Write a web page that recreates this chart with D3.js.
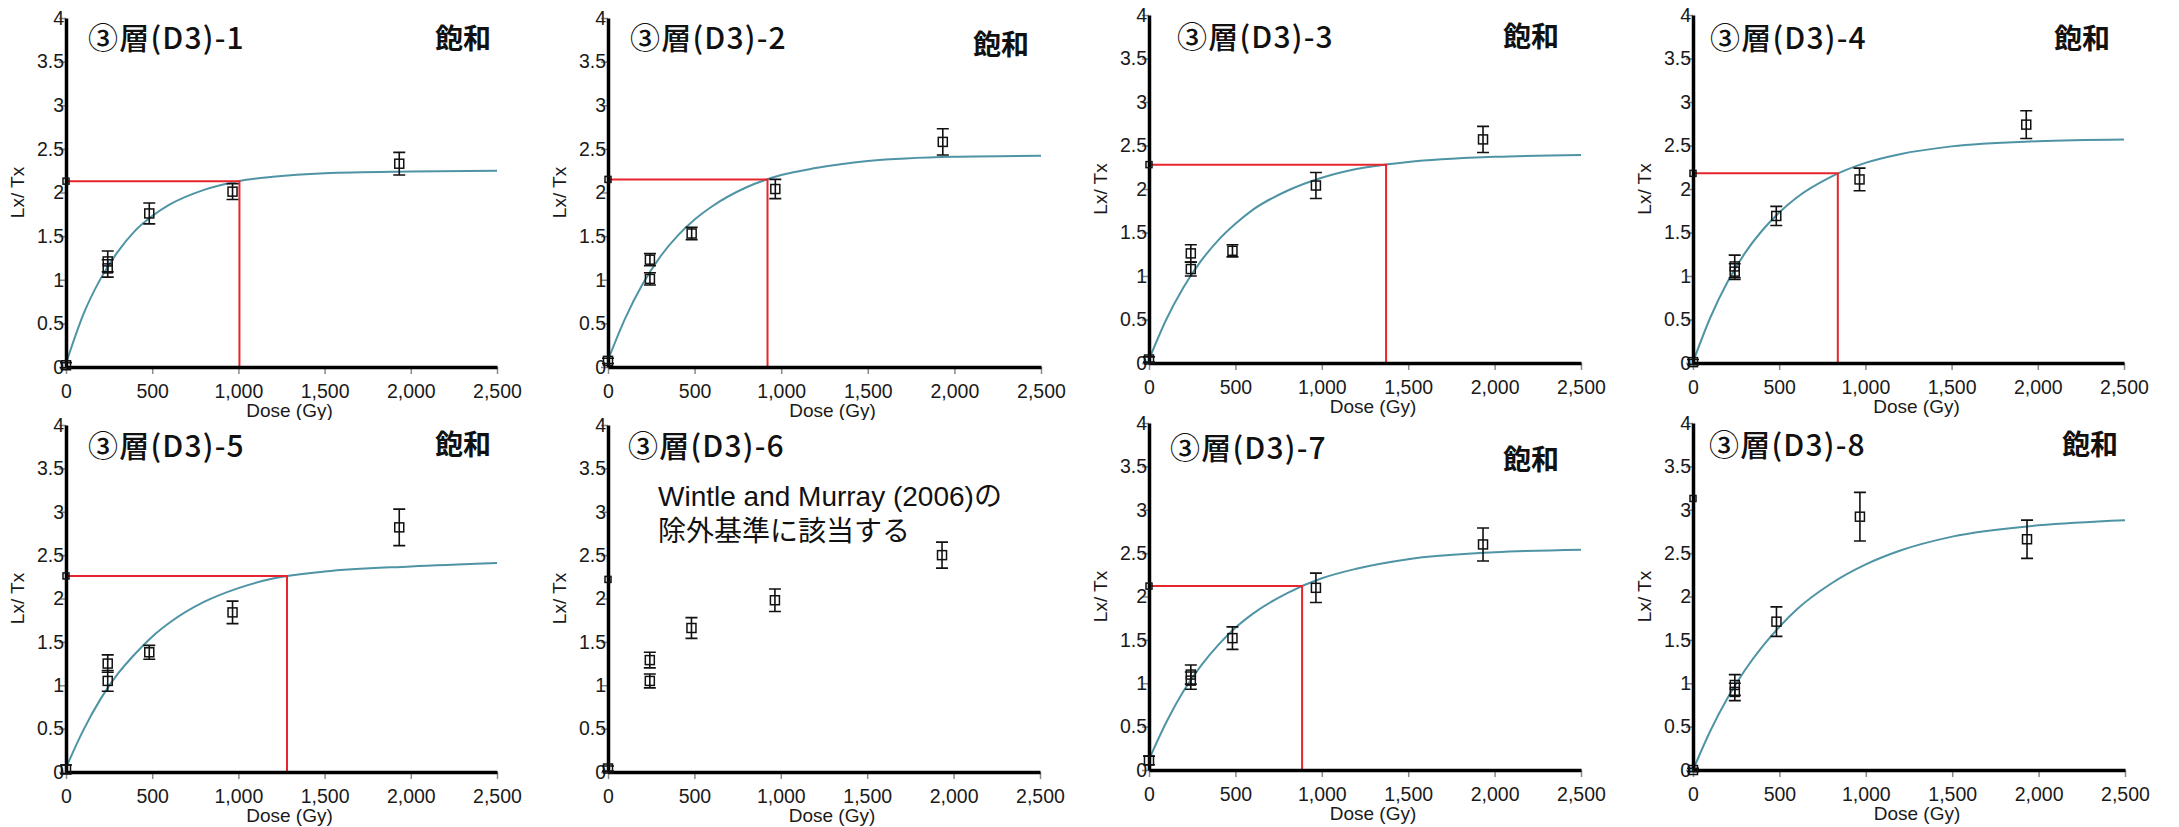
<!DOCTYPE html>
<html><head><meta charset="utf-8">
<script src="https://cdn.jsdelivr.net/npm/d3@7"></script>
<style>body{margin:0;background:#fff;overflow:hidden}</style>
</head><body><svg id="c" width="2179" height="827"></svg>
<script>
// ---------------- data ----------------
const panelTitles = ["③層(D3)-1","③層(D3)-2","③層(D3)-3","③層(D3)-4","③層(D3)-5","③層(D3)-6","③層(D3)-7","③層(D3)-8"];
const statusLabels = ["飽和","飽和","飽和","飽和","飽和","","飽和","飽和"];
const noteLines = ["Wintle and Murray (2006)の","除外基準に該当する"]; // panel 6 note
const regenDoses = [0, 242, 242, 483, 966, 1933];
const lxtx = [
  [0.02, 1.21, 1.13, 1.76, 2.01, 2.33],
  [0.07, 1.23, 1.01, 1.53, 2.04, 2.58],
  [0.04, 1.26, 1.08, 1.29, 2.04, 2.57],
  [0.01, 1.11, 1.05, 1.69, 2.11, 2.74],
  [0.03, 1.25, 1.05, 1.38, 1.84, 2.82],
  [0.04, 1.29, 1.05, 1.66, 1.98, 2.50],
  [0.11, 1.10, 1.03, 1.52, 2.10, 2.60],
  [0.00, 0.98, 0.90, 1.71, 2.92, 2.66]
];
const lxtxErr = [
  [0.03, 0.12, 0.10, 0.12, 0.09, 0.13],
  [0.03, 0.07, 0.07, 0.07, 0.11, 0.15],
  [0.03, 0.10, 0.08, 0.07, 0.15, 0.15],
  [0.03, 0.13, 0.09, 0.11, 0.13, 0.16],
  [0.05, 0.10, 0.12, 0.08, 0.13, 0.21],
  [0.03, 0.09, 0.08, 0.12, 0.13, 0.15],
  [0.05, 0.11, 0.10, 0.13, 0.17, 0.19],
  [0.02, 0.12, 0.10, 0.17, 0.28, 0.22]
];
const naturalLxTx = [2.13, 2.15, 2.28, 2.18, 2.26, 2.22, 2.12, 3.13];
const deDoses = [1006, 921, 1372, 840, 1282, null, 886, null];
const fitDoses = [0, 100, 200, 300, 400, 500, 600, 800, 1000, 1200, 1500, 2000, 2500];
const fitLxTx = [
  [0.04,0.60,1.01,1.32,1.56,1.73,1.86,2.03,2.13,2.18,2.22,2.24,2.25],
  [0.08,0.56,0.95,1.26,1.50,1.69,1.84,2.06,2.20,2.28,2.36,2.41,2.42],
  [0.04,0.50,0.87,1.17,1.41,1.60,1.76,1.98,2.13,2.23,2.31,2.37,2.39],
  [0.01,0.52,0.93,1.26,1.52,1.73,1.90,2.14,2.30,2.40,2.49,2.55,2.57],
  [0.05,0.48,0.84,1.13,1.36,1.56,1.72,1.96,2.12,2.23,2.31,2.37,2.41],
  null,
  [0.12,0.55,0.91,1.20,1.44,1.64,1.80,2.04,2.21,2.32,2.43,2.51,2.54],
  [0.00,0.45,0.83,1.15,1.42,1.65,1.85,2.15,2.37,2.53,2.69,2.82,2.88]
];
const xTicks = [0, 500, 1000, 1500, 2000, 2500];
const yTicks = [0, 0.5, 1, 1.5, 2, 2.5, 3, 3.5, 4];
const xLabel = "Dose (Gy)";
const yLabel = "Lx/ Tx";

// ---------------- layout ----------------
const layout = [
  {x0:66,  x1:497,  yTop:18,  yBot:367, bgTop:0,   tx:88,   ty:49,  sx:435,  sy:49},
  {x0:608, x1:1041, yTop:18,  yBot:367, bgTop:0,   tx:630,  ty:49,  sx:973,  sy:55},
  {x0:1149,x1:1581, yTop:15,  yBot:363, bgTop:0,   tx:1177, ty:48,  sx:1503, sy:47},
  {x0:1693,x1:2124, yTop:15,  yBot:363, bgTop:0,   tx:1710, ty:49,  sx:2054, sy:49},
  {x0:66,  x1:497,  yTop:425, yBot:772, bgTop:420, tx:88,   ty:457, sx:435,  sy:455},
  {x0:608, x1:1040, yTop:425, yBot:772, bgTop:420, tx:628,  ty:457, sx:0,    sy:0},
  {x0:1149,x1:1581, yTop:423, yBot:770, bgTop:420, tx:1170, ty:459, sx:1503, sy:470},
  {x0:1693,x1:2125, yTop:423, yBot:770, bgTop:420, tx:1709, ty:456, sx:2062, sy:455}
];
const panelLefts = [0, 545, 1090, 1635];

const svg = d3.select("#c");
const FONT = "'Liberation Sans', Arial, sans-serif";
const CJK = "'Noto Sans CJK JP', sans-serif";
const curveColor = "#4f94a4";
const red = "#e6262c";

layout.forEach((L, i) => {
  const g = svg.append("g");
  const left = panelLefts[i % 4];
  g.append("rect").attr("x", left).attr("y", L.bgTop).attr("width", 545).attr("height", 413)
    .attr("fill", "#fff");

  const x = d3.scaleLinear().domain([0, 2500]).range([L.x0, L.x1]);
  const y = d3.scaleLinear().domain([0, 4]).range([L.yBot, L.yTop]);

  // fit curve
  if (fitLxTx[i]) {
    const pts = fitDoses.map((d, k) => [d, fitLxTx[i][k]]);
    g.append("path").datum(pts)
      .attr("d", d3.line().x(d => x(d[0])).y(d => y(d[1])).curve(d3.curveMonotoneX))
      .attr("fill", "none").attr("stroke", curveColor).attr("stroke-width", 2);
  }
  // De construction lines
  if (deDoses[i] != null) {
    g.append("path")
      .attr("d", `M${x(0)},${y(naturalLxTx[i])}H${x(deDoses[i])}V${y(0)}`)
      .attr("fill", "none").attr("stroke", red).attr("stroke-width", 2);
  }

  // axes
  const ax = g.append("g").attr("transform", `translate(0,${y(0)})`)
    .call(d3.axisBottom(x).tickValues(xTicks).tickFormat(d3.format(",")).tickSize(7).tickSizeOuter(0).tickPadding(10));
  const ay = g.append("g").attr("transform", `translate(${x(0)},0)`)
    .call(d3.axisLeft(y).tickValues(yTicks).tickFormat(d => String(d)).tickSize(7).tickSizeOuter(0).tickPadding(-5));
  [ax, ay].forEach(a => {
    a.select(".domain").attr("stroke", "#000").attr("stroke-width", 3.5);
    a.selectAll(".tick line").attr("stroke", "#8a8a8a").attr("stroke-width", 1.5);
    a.selectAll(".tick text").attr("font-family", FONT).attr("font-size", 19.5).attr("fill", "#1a1a1a");
  });
  ax.select(".domain").raise();
  ay.select(".domain").raise();

  // axis titles
  g.append("text").attr("x", (L.x0 + L.x1) / 2 + 8).attr("y", L.yBot + 50)
    .attr("text-anchor", "middle").attr("font-family", FONT).attr("font-size", 19)
    .attr("fill", "#1a1a1a").text(xLabel);
  g.append("text").attr("transform", `translate(${L.x0 - 42},${(L.yTop + L.yBot) / 2}) rotate(-90)`)
    .attr("text-anchor", "middle").attr("font-family", FONT).attr("font-size", 19)
    .attr("fill", "#1a1a1a").text(yLabel);

  // data points with error bars
  const pts = regenDoses.map((d, k) => ({d, v: lxtx[i][k], e: lxtxErr[i][k]}));
  const pg = g.append("g").attr("stroke", "#111").attr("fill", "none");
  pts.forEach(p => {
    const cx = x(p.d), cy = y(p.v);
    pg.append("path")
      .attr("d", `M${cx},${y(p.v + p.e)}V${y(p.v - p.e)}M${cx - 6},${y(p.v + p.e)}H${cx + 6}M${cx - 6},${y(p.v - p.e)}H${cx + 6}`)
      .attr("stroke-width", 1.6);
    pg.append("rect").attr("x", cx - 4.5).attr("y", cy - 4.5).attr("width", 9).attr("height", 9)
      .attr("stroke-width", 1.5);
  });
  // natural signal marker
  pg.append("rect").attr("x", x(0) - 3).attr("y", y(naturalLxTx[i]) - 3).attr("width", 6).attr("height", 6)
    .attr("stroke-width", 1.5);

  // titles
  g.append("text").attr("x", L.tx).attr("y", L.ty).attr("font-family", CJK).attr("font-size", 30)
    .attr("font-weight", 500).attr("letter-spacing", 1.2).attr("fill", "#111").text(panelTitles[i]);
  if (statusLabels[i]) {
    g.append("text").attr("x", L.sx).attr("y", L.sy).attr("font-family", CJK).attr("font-size", 28)
      .attr("font-weight", "bold").attr("fill", "#111").text(statusLabels[i]);
  }
  if (i === 5) {
    noteLines.forEach((t, k) => {
      g.append("text").attr("x", 658).attr("y", 506 + k * 35)
        .attr("font-family", "'Liberation Sans', 'Noto Sans CJK JP', sans-serif").attr("font-size", 28)
        .attr("fill", "#111").text(t);
    });
  }
});
</script></body></html>
